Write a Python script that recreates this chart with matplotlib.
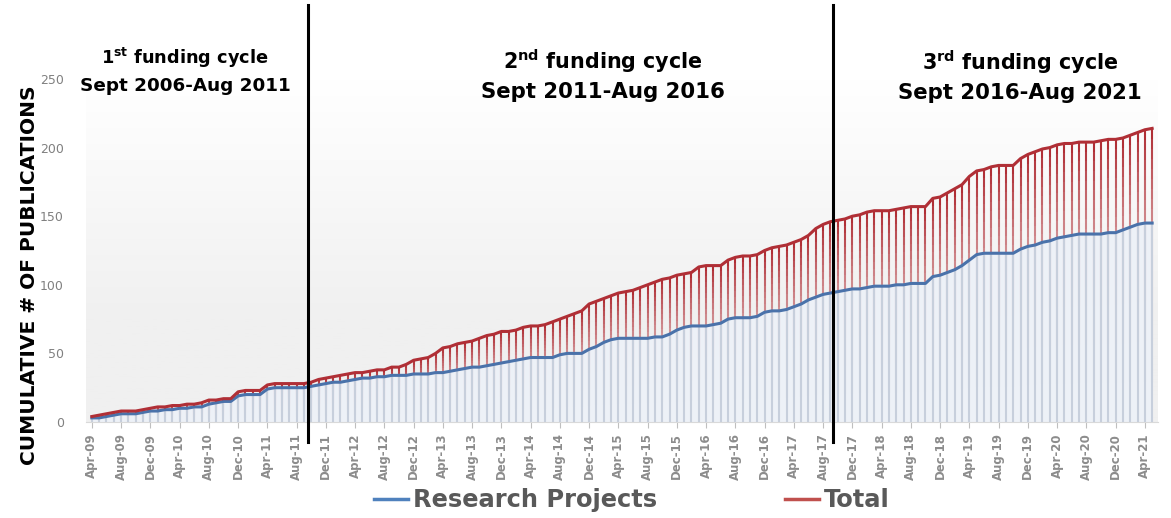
import matplotlib
matplotlib.use("Agg")
import matplotlib.pyplot as plt
import numpy as np
import pandas as pd
from matplotlib.collections import LineCollection
from matplotlib.colors import LinearSegmentedColormap, to_rgba
from matplotlib.lines import Line2D

# monthly cumulative counts, Apr-09 .. May-21
START_MONTH = "2009-04-01"
TOTAL = [
    4, 5, 6, 7, 8, 8, 8, 9, 10, 11, 11, 12, 12, 13, 13, 14,
    16, 16, 17, 17, 22, 23, 23, 23, 27, 28, 28, 28, 28, 28, 29, 31,
    32, 33, 34, 35, 36, 36, 37, 38, 38, 40, 40, 42, 45, 46, 47, 50,
    54, 55, 57, 58, 59, 61, 63, 64, 66, 66, 67, 69, 70, 70, 71, 73,
    75, 77, 79, 81, 86, 88, 90, 92, 94, 95, 96, 98, 100, 102, 104, 105,
    107, 108, 109, 113, 114, 114, 114, 118, 120, 121, 121, 122, 125, 127, 128, 129,
    131, 133, 136, 141, 144, 146, 147, 148, 150, 151, 153, 154, 154, 154, 155, 156,
    157, 157, 157, 163, 164, 167, 170, 173, 179, 183, 184, 186, 187, 187, 187, 192,
    195, 197, 199, 200, 202, 203, 203, 204, 204, 204, 205, 206, 206, 207, 209, 211,
    213, 214,
]
RESEARCH = [
    3, 3, 4, 5, 6, 6, 6, 7, 8, 8, 9, 9, 10, 10, 11, 11,
    13, 14, 15, 15, 19, 20, 20, 20, 24, 25, 25, 25, 25, 25, 26, 27,
    28, 29, 29, 30, 31, 32, 32, 33, 33, 34, 34, 34, 35, 35, 35, 36,
    36, 37, 38, 39, 40, 40, 41, 42, 43, 44, 45, 46, 47, 47, 47, 47,
    49, 50, 50, 50, 53, 55, 58, 60, 61, 61, 61, 61, 61, 62, 62, 64,
    67, 69, 70, 70, 70, 71, 72, 75, 76, 76, 76, 77, 80, 81, 81, 82,
    84, 86, 89, 91, 93, 94, 95, 96, 97, 97, 98, 99, 99, 99, 100, 100,
    101, 101, 101, 106, 107, 109, 111, 114, 118, 122, 123, 123, 123, 123, 123, 126,
    128, 129, 131, 132, 134, 135, 136, 137, 137, 137, 137, 138, 138, 140, 142, 144,
    145, 145,
]
CYCLE_BREAKS = [29.5, 101.3]
CYCLE_TITLES = [r"1$^{\mathbf{st}}$ funding cycle",
                r"2$^{\mathbf{nd}}$ funding cycle",
                r"3$^{\mathbf{rd}}$ funding cycle"]
CYCLE_SPANS = ["Sept 2006-Aug 2011", "Sept 2011-Aug 2016", "Sept 2016-Aug 2021"]

RED = "#b02f36"
BLUE = "#4a72aa"

months = pd.date_range(START_MONTH, periods=len(TOTAL), freq="MS")
x = np.arange(len(months))
total = np.array(TOTAL, dtype=float)
research = np.array(RESEARCH, dtype=float)

W, H = 1171, 518
fig = plt.figure(figsize=(W / 100, H / 100), dpi=100)
ax = fig.add_axes([86 / W, 1 - 422 / H, (1158 - 86) / W, (422 - 79) / H])
xlim = (-0.8, len(x) - 0.2)
ax.set_xlim(*xlim)
ax.set_ylim(0, 250)

# background shading of the plot area
grad = np.clip((np.linspace(0, 1, 200) - 0.3) / 0.7, 0, 1).reshape(-1, 1)
cmap = LinearSegmentedColormap.from_list("bg", ["#f0f0f0", "#ffffff"])
ax.imshow(grad, extent=(xlim[0], xlim[1], 0, 250), origin="lower",
          aspect="auto", cmap=cmap, zorder=0)

ax.fill_between(x, 0, research, color="#edf1f7", lw=0, zorder=1)


def gradient_stems(xs, tops, color, power, lw, z):
    base = to_rgba(color)
    segs, cols = [], []
    for xi, t in zip(xs, tops):
        ys = np.linspace(0, t, 30)
        for a, b in zip(ys[:-1], ys[1:]):
            segs.append([(xi, a), (xi, b)])
            cols.append((base[0], base[1], base[2], (b / t) ** power))
    ax.add_collection(LineCollection(segs, colors=cols, linewidths=lw, zorder=z))


gradient_stems(x, total, RED, 1.7, 1.5, 2)
ax.vlines(x, 0, research, colors="#c7cfdc", lw=1.5, zorder=3)
ax.plot(x, research, color=BLUE, lw=2.2, zorder=4)
ax.plot(x, total, color=RED, lw=2.2, zorder=5)

for b in CYCLE_BREAKS:
    ax.axvline(b, ymin=-0.058, ymax=1.216, color="black", lw=2.2,
               clip_on=False, zorder=6)

for s in ["top", "right", "left"]:
    ax.spines[s].set_visible(False)
ax.spines["bottom"].set_color("#d9d9d9")
ax.set_yticks(range(0, 251, 50))
ax.tick_params(axis="y", length=0, pad=16, labelsize=9, labelcolor="#808080")
ax.set_xticks(x[::4])
ax.set_xticklabels([m.strftime("%b-%y") for m in months[::4]], rotation=90,
                   fontsize=8.5, fontweight="bold", color="#8c8c8c")
ax.tick_params(axis="x", length=4, color="#bfbfbf", pad=4)

fig.text(30 / W, 1 - 275 / H, "CUMULATIVE # OF PUBLICATIONS", rotation=90,
         ha="center", va="center", fontsize=14.5, fontweight="bold")

title_pos = [(185, 58, 86, 12.8, 13.2), (603, 61, 92, 14.9, 15.3),
             (1020, 62, 93, 14.9, 15.3)]
for (cx, y1, y2, fs1, fs2), t1, t2 in zip(title_pos, CYCLE_TITLES, CYCLE_SPANS):
    fig.text(cx / W, 1 - y1 / H, t1, ha="center", va="center",
             fontsize=fs1, fontweight="bold")
    fig.text(cx / W, 1 - y2 / H, t2, ha="center", va="center",
             fontsize=fs2, fontweight="bold")

handles = [Line2D([], [], color="#4f81bd", lw=2.5), Line2D([], [], color="#c0504d", lw=2.5)]
leg = fig.legend(handles, ["Research Projects", "Total"], loc="center",
                 bbox_to_anchor=(632 / W, 1 - 500 / H), ncol=2, frameon=False,
                 handlelength=1.4, handletextpad=0.2, columnspacing=5.3,
                 prop={"size": 17.4, "weight": "bold"})
for t in leg.get_texts():
    t.set_color("#595959")

fig.savefig("out.png", dpi=100)
